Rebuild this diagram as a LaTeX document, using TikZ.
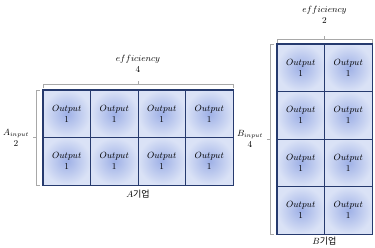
\documentclass[tikz,border=0pt]{standalone}
\usepackage{fontspec}
\newfontfamily\korean{Noto Sans CJK KR}
\usepackage{tikz}
\usetikzlibrary{positioning}

\definecolor{navy}{RGB}{38,58,110}
\definecolor{cellin}{RGB}{158,176,230}
\definecolor{cellout}{RGB}{218,226,246}
\definecolor{bracketgray}{RGB}{168,168,168}

\begin{document}
\begin{tikzpicture}[
	x=1pt, y=-1pt,
	cell/.style={
		rectangle,
		draw=navy,
		shading=radial,
		inner color=cellin,
		outer color=cellout,
		minimum width=47.5pt,
		minimum height=47.5pt,
		inner sep=0pt,
		align=center,
		font=\small
	},
	frame/.style={
		draw=navy,
		thick
	},
	bracket/.style={
		draw=bracketgray,
		thin
	},
	lbl/.style={
		align=center,
		font=\small,
		inner sep=1pt
	}
	]
	\useasboundingbox (0,0) rectangle (375,247);
	% A: 2 rows x 4 columns
	\foreach \r in {1,2}{
		\foreach \c in {1,...,4}{
			\node[cell] (A-\r-\c) at ({43+47.5*(\c-0.5)},{90+47.5*(\r-0.5)})
			{$Output$\\1};
		}
	}
	\draw[frame] (A-1-1.north west) rectangle (A-2-4.south east);
	% B: 4 rows x 2 columns
	\foreach \r in {1,...,4}{
		\foreach \c in {1,2}{
			\node[cell] (B-\r-\c) at ({277+47.5*(\c-0.5)},{44+47.5*(\r-0.5)})
			{$Output$\\1};
		}
	}
	\draw[frame] (B-1-1.north west) rectangle (B-4-2.south east);
	% brackets of A
	\draw[bracket] (43,88) -- (43,84) -- (233,84) -- (233,88);
	\draw[bracket] (138,84) -- (138,81);
	\draw[bracket] (40,90) -- (36,90) -- (36,185) -- (40,185);
	\draw[bracket] (36,137.5) -- (33,137.5);
	% brackets of B
	\draw[bracket] (277,43) -- (277,39) -- (372,39) -- (372,43);
	\draw[bracket] (324.5,39) -- (324.5,36);
	\draw[bracket] (274,44) -- (270,44) -- (270,234) -- (274,234);
	\draw[bracket] (270,139) -- (267,139);
	% labels
	\node[lbl] (effA) at (138,64) {$efficiency$\\4};
	\node[lbl] (inA) at (16,137.5) {$A_{input}$\\2};
	\node[lbl] (nameA) at (138,194) {$A$\korean 기업};
	\node[lbl] (effB) at (324.5,15) {$efficiency$\\2};
	\node[lbl] (inB) at (250,139) {$B_{input}$\\4};
	\node[lbl] (nameB) at (324.5,241) {$B$\korean 기업};
\end{tikzpicture}
\end{document}
